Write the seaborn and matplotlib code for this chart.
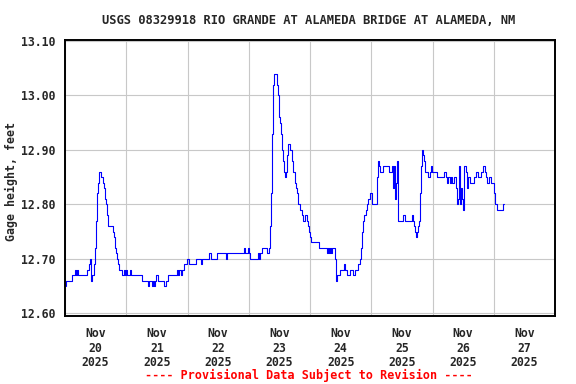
import matplotlib
matplotlib.use("Agg")
import matplotlib.pyplot as plt
import numpy as np
import pandas as pd
import seaborn as sns

TITLE = "USGS 08329918 RIO GRANDE AT ALAMEDA BRIDGE AT ALAMEDA, NM"
FOOTER = "---- Provisional Data Subject to Revision ----"
START = pd.Timestamp("2025-11-20 00:00")
END = pd.Timestamp("2025-11-28 00:00")

# step change points: hours after Nov 20 00:00, gage height (ft)
hours = [
    0.25, 0.5, 2.6, 3.9, 4.3, 4.7, 5.1, 8.5, 9.5, 9.9, 10.3, 10.7, 11.4, 11.8,
    12.1, 12.7, 13.1, 13.5, 14.2, 14.8, 15.2, 15.5, 15.9, 16.5, 17.0, 18.7,
    19.1, 19.6, 20.0, 20.5, 20.9, 21.3, 22.3, 23.1, 23.5, 23.9, 24.3, 25.5,
    26.0, 30.0, 32.7, 33.0, 33.9, 34.3, 35.0, 35.3, 35.7, 36.3, 38.8, 39.6,
    40.2, 43.8, 44.4, 44.8, 45.3, 45.7, 46.6, 47.7, 48.5, 51.3, 53.2, 53.6,
    56.6, 57.1, 59.4, 63.0, 63.3, 70.2, 70.6, 71.6, 72.0, 72.5, 75.5, 75.9,
    76.4, 77.1, 79.3, 80.1, 80.5, 80.7, 81.0, 81.2, 81.5, 81.9, 83.0, 83.5,
    83.7, 84.1, 84.5, 84.9, 85.3, 85.7, 86.2, 86.6, 87.1, 87.5, 88.3, 88.9,
    89.5, 90.0, 90.4, 90.8, 91.4, 92.1, 92.7, 93.4, 94.0, 94.7, 95.3, 95.7,
    96.0, 96.4, 99.5, 102.5, 102.9, 103.4, 103.8, 104.1, 104.5, 105.8, 106.0,
    106.2, 106.7, 107.7, 109.4, 109.9, 110.4, 111.6, 112.9, 113.6, 114.9,
    115.6, 116.0, 116.5, 116.9, 117.3, 117.8, 118.2, 118.9, 119.5, 120.2,
    122.1, 122.5, 123.0, 123.4, 124.7, 127.1, 128.0, 128.6, 128.9, 129.3,
    129.7, 130.1, 130.3, 130.6, 132.6, 133.2, 135.8, 136.5, 136.9, 137.1,
    137.5, 137.8, 138.2, 138.7, 139.1, 139.5, 139.9, 140.3, 140.7, 141.1,
    142.4, 143.0, 143.4, 143.9, 145.6, 148.6, 149.3, 149.8, 150.2, 150.8,
    151.2, 151.8, 152.4, 153.2, 153.6, 154.0, 154.4, 154.8, 155.2, 155.6,
    156.1, 156.5, 157.0, 157.4, 158.1, 158.7, 160.4, 160.9, 161.9, 163.0,
    163.9, 164.6, 165.0, 165.5, 166.3, 166.8, 168.1, 168.5, 169.2, 171.8,
    172.2,
]
gage_ft = [
    12.65, 12.66, 12.67, 12.68, 12.67, 12.68, 12.67, 12.68, 12.69, 12.70,
    12.66, 12.67, 12.69, 12.72, 12.77, 12.82, 12.84, 12.86, 12.85, 12.84,
    12.83, 12.81, 12.80, 12.78, 12.76, 12.75, 12.74, 12.72, 12.71, 12.70,
    12.69, 12.68, 12.67, 12.68, 12.67, 12.68, 12.67, 12.68, 12.67, 12.66,
    12.65, 12.66, 12.65, 12.66, 12.65, 12.66, 12.67, 12.66, 12.65, 12.66,
    12.67, 12.68, 12.67, 12.68, 12.67, 12.68, 12.69, 12.70, 12.69, 12.70,
    12.69, 12.70, 12.71, 12.70, 12.71, 12.70, 12.71, 12.72, 12.71, 12.72,
    12.71, 12.70, 12.71, 12.70, 12.71, 12.72, 12.71, 12.72, 12.76, 12.82,
    12.88, 12.93, 13.02, 13.04, 13.02, 13.00, 12.96, 12.95, 12.93, 12.90,
    12.88, 12.86, 12.85, 12.86, 12.89, 12.91, 12.90, 12.88, 12.86, 12.84,
    12.83, 12.82, 12.80, 12.79, 12.78, 12.77, 12.78, 12.77, 12.76, 12.75,
    12.74, 12.73, 12.72, 12.71, 12.72, 12.71, 12.72, 12.71, 12.72, 12.70,
    12.67, 12.66, 12.67, 12.68, 12.69, 12.68, 12.67, 12.68, 12.67, 12.68,
    12.69, 12.70, 12.72, 12.75, 12.77, 12.78, 12.79, 12.80, 12.81, 12.82,
    12.80, 12.85, 12.88, 12.87, 12.86, 12.87, 12.86, 12.87, 12.83, 12.87,
    12.81, 12.84, 12.88, 12.81, 12.77, 12.78, 12.77, 12.78, 12.77, 12.76,
    12.75, 12.74, 12.75, 12.76, 12.77, 12.82, 12.87, 12.90, 12.89, 12.88,
    12.86, 12.85, 12.86, 12.87, 12.86, 12.85, 12.86, 12.85, 12.84, 12.85,
    12.84, 12.85, 12.84, 12.85, 12.83, 12.80, 12.81, 12.87, 12.80, 12.83,
    12.81, 12.79, 12.87, 12.86, 12.83, 12.85, 12.84, 12.85, 12.86, 12.85,
    12.86, 12.87, 12.86, 12.85, 12.84, 12.85, 12.84, 12.82, 12.80, 12.79,
    12.80, 12.80,
]

y_ticks = [12.60, 12.70, 12.80, 12.90, 13.00, 13.10]
day_labels = ["Nov\n20\n2025", "Nov\n21\n2025", "Nov\n22\n2025", "Nov\n23\n2025",
              "Nov\n24\n2025", "Nov\n25\n2025", "Nov\n26\n2025", "Nov\n27\n2025"]

df = pd.DataFrame({
    "time": START + pd.to_timedelta(hours, unit="h"),
    "gage": gage_ft,
})

sns.set_theme(style="white")
plt.rcParams["font.family"] = ["DejaVu Sans Mono"]
plt.rcParams["font.weight"] = "bold"

fig = plt.figure(figsize=(5.76, 3.84), dpi=100)
ax = fig.add_axes([65 / 576, 68 / 384, 490 / 576, 276 / 384])

sns.lineplot(data=df, x="time", y="gage", estimator=None, drawstyle="steps-post",
             color="#0000ff", linewidth=0.8, ax=ax)

midnights = pd.date_range(START, END, freq="D")
noons = midnights[:-1] + pd.Timedelta(hours=12)
ax.set_xticks(midnights)
ax.set_xticklabels([""] * len(midnights))
ax.set_xticks(noons, minor=True)
ax.set_xticklabels(day_labels, minor=True, fontsize=8.3, fontweight="bold",
                   linespacing=1.15)
ax.set_xlim(START, END)

ax.set_yticks(y_ticks)
ax.set_yticklabels([f"{v:.2f}" for v in y_ticks], fontsize=8.3, fontweight="bold")
ax.set_ylim(12.595, 13.1018)

ax.grid(True, which="major", color="#c8c8c8", linewidth=0.8)
ax.set_axisbelow(True)
ax.tick_params(axis="both", which="both", length=0)
ax.tick_params(axis="y", pad=7)
ax.tick_params(axis="x", which="minor", pad=8)
for s in ax.spines.values():
    s.set_color("black")
    s.set_linewidth(1.4)

ax.set_xlabel("")
ax.set_ylabel("Gage height, feet", fontsize=8.4, fontweight="bold")
ax.yaxis.set_label_coords(-47 / 490, 0.486)

fig.text(309 / 576, 1 - 20 / 384, TITLE, ha="center", va="center",
         fontsize=8.7, fontweight="bold")
fig.text(309 / 576, 1 - 375 / 384, FOOTER, ha="center", va="center",
         fontsize=8.5, fontweight="bold", color="#ff0000")

fig.savefig("out.png", dpi=100)
